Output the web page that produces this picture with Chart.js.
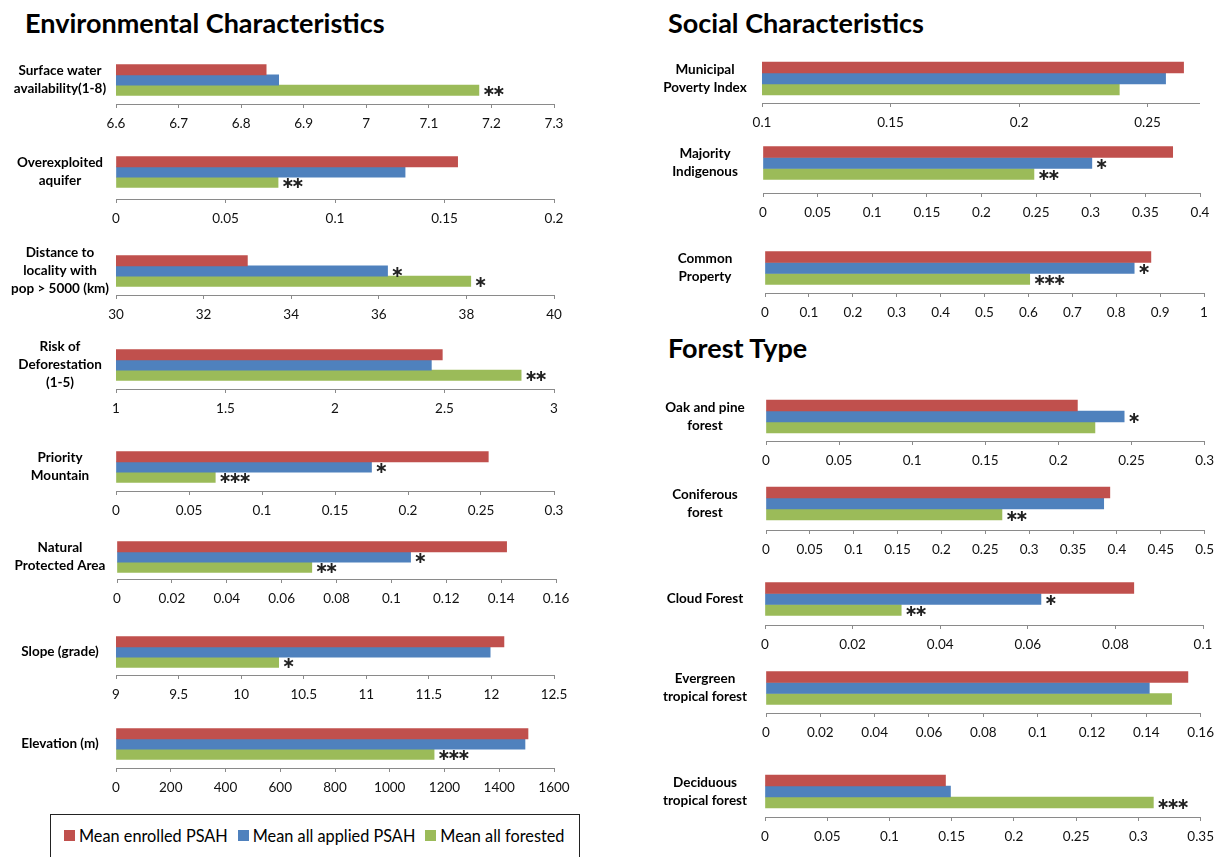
<!DOCTYPE html>
<html>
<head>
<meta charset="utf-8">
<script src="https://cdn.jsdelivr.net/npm/chart.js@4.4.1/dist/chart.umd.min.js"></script>
<style>
  body { margin: 0; width: 1222px; height: 857px; position: relative; overflow: hidden; background: #fff; font-family: Lato, sans-serif; }
  h2 { position: absolute; margin: 0; font: bold 27px/27px Lato, sans-serif; color: #000; }
  canvas { position: absolute; }
  #legend { position: absolute; left: 50px; top: 814px; width: 530px; height: 60px; border: 1px solid #222; box-sizing: border-box;
            display: flex; align-items: center; padding: 0 0 17px 13px; font: 16.3px Lato, sans-serif; color: #000; white-space: nowrap; }
  #legend span.sw { display: inline-block; width: 11px; height: 11px; margin-right: 4px; flex: none; }
  #legend span.item { display: inline-flex; align-items: center; margin-right: 10px; flex: none; }
</style>
</head>
<body>
<h2 style="left:25px; top:9px">Environmental Characteristics</h2>
<h2 style="left:668px; top:9px">Social Characteristics</h2>
<h2 style="left:668px; top:334px">Forest Type</h2>
<div id="legend"></div>

<script>
// one entry per small chart, left column then right column
const categories = [
  ["Surface water", "availability(1-8)"],
  ["Overexploited", "aquifer"],
  ["Distance to", "locality with", "pop > 5000 (km)"],
  ["Risk of", "Deforestation", "(1-5)"],
  ["Priority", "Mountain"],
  ["Natural", "Protected Area"],
  ["Slope (grade)"],
  ["Elevation (m)"],
  ["Municipal", "Poverty Index"],
  ["Majority", "Indigenous"],
  ["Common", "Property"],
  ["Oak and pine", "forest"],
  ["Coniferous", "forest"],
  ["Cloud Forest"],
  ["Evergreen", "tropical forest"],
  ["Deciduous", "tropical forest"]
];

const seriesNames = ["Mean enrolled PSAH", "Mean all applied PSAH", "Mean all forested"];
const seriesColors = ["#C0504D", "#4F81BD", "#9BBB59"];

const enrolled = [6.84, 0.156, 33.0, 2.49, 0.255, 0.142, 12.10, 1505, 0.264, 0.375, 0.879, 0.213, 0.392, 0.0842, 0.1553, 0.145];
const applied  = [6.86, 0.132, 36.2, 2.44, 0.175, 0.107, 11.99, 1494, 0.257, 0.301, 0.841, 0.245, 0.385, 0.0630, 0.1411, 0.149];
const forested = [7.18, 0.074, 38.1, 2.85, 0.068, 0.071, 10.30, 1162, 0.239, 0.248, 0.603, 0.225, 0.269, 0.0311, 0.1493, 0.312];

// significance stars next to each bar
const starsEnrolled = [0, 0, 0, 0, 0, 0, 0, 0, 0, 0, 0, 0, 0, 0, 0, 0];
const starsApplied  = [0, 0, 1, 0, 1, 1, 0, 0, 0, 1, 1, 1, 0, 1, 0, 0];
const starsForested = [2, 2, 1, 2, 3, 2, 1, 3, 0, 2, 3, 0, 2, 2, 0, 3];

// x axis ranges / tick steps
const axisMin  = [6.6, 0, 30, 1, 0, 0, 9, 0, 0.1, 0, 0, 0, 0, 0, 0, 0];
const axisMax  = [7.3, 0.2, 40, 3, 0.3, 0.16, 12.5, 1600, 0.27, 0.4, 1, 0.3, 0.5, 0.1, 0.16, 0.35];
const axisStep = [0.1, 0.05, 2, 0.5, 0.05, 0.02, 0.5, 200, 0.05, 0.05, 0.1, 0.05, 0.05, 0.02, 0.02, 0.05];

// page layout of each panel: plot left/right, bar group centre, axis line y
const boxes = [
  { side: "L", x0: 116, x1: 554, c: 80,    ay: 104 },
  { side: "L", x0: 116, x1: 554, c: 172,   ay: 199 },
  { side: "L", x0: 116, x1: 554, c: 271,   ay: 295 },
  { side: "L", x0: 116, x1: 554, c: 365,   ay: 389 },
  { side: "L", x0: 116, x1: 554, c: 467,   ay: 491 },
  { side: "L", x0: 117, x1: 556, c: 557,   ay: 579 },
  { side: "L", x0: 116, x1: 554, c: 652,   ay: 675 },
  { side: "L", x0: 116, x1: 554, c: 744,   ay: 768 },
  { side: "R", x0: 762, x1: 1199, c: 78.5, ay: 103 },
  { side: "R", x0: 763, x1: 1200, c: 163,  ay: 193 },
  { side: "R", x0: 765, x1: 1204, c: 268,  ay: 293 },
  { side: "R", x0: 766, x1: 1206, c: 416.5, ay: 441 },
  { side: "R", x0: 766, x1: 1205, c: 503.5, ay: 530 },
  { side: "R", x0: 765, x1: 1203, c: 599,  ay: 625 },
  { side: "R", x0: 766, x1: 1203, c: 688,  ay: 713 },
  { side: "R", x0: 765, x1: 1204, c: 791.5, ay: 817 }
];

const starPlugin = {
  id: "stars",
  afterDatasetsDraw(chart, args, opts) {
    const ctx = chart.ctx;
    ctx.save();
    ctx.font = "bold 16px 'DejaVu Sans'";
    ctx.fillStyle = "#222";
    ctx.textBaseline = "middle";
    ctx.textAlign = "left";
    chart.data.datasets.forEach((ds, i) => {
      const bar = chart.getDatasetMeta(i).data[0];
      for (let k = 0; k < opts.marks[i]; k++) {
        ctx.fillText("\u2217", bar.x + 3 + k * 10, bar.y + 2);
      }
    });
    ctx.restore();
  }
};

const labelPlugin = {
  id: "catLabel",
  afterDraw(chart, args, opts) {
    const ctx = chart.ctx;
    const lines = chart.data.labels[0];
    const cy = (chart.chartArea.top + chart.chartArea.bottom) / 2;
    ctx.save();
    ctx.font = "bold 13.5px Lato";
    ctx.fillStyle = "#000";
    ctx.textAlign = "center";
    ctx.textBaseline = "middle";
    lines.forEach((t, k) => {
      ctx.fillText(t, opts.x, cy + (k - (lines.length - 1) / 2) * 18);
    });
    ctx.restore();
  }
};

const fmt = (v) => String(+v.toFixed(4));

boxes.forEach((b, i) => {
  const left = b.side === "L" ? 0 : 620;
  const width = b.side === "L" ? 600 : 602;
  const top = 2 * b.c - b.ay;
  const height = b.ay - top + 30;

  const cv = document.createElement("canvas");
  cv.width = width;
  cv.height = height;
  cv.style.left = left + "px";
  cv.style.top = top + "px";
  document.body.appendChild(cv);

  const values = [enrolled[i], applied[i], forested[i]];

  new Chart(cv.getContext("2d"), {
    type: "bar",
    data: {
      labels: [categories[i]],
      datasets: values.map((v, k) => ({
        label: seriesNames[k],
        data: [v],
        backgroundColor: seriesColors[k],
        borderWidth: 0
      }))
    },
    options: {
      indexAxis: "y",
      responsive: false,
      animation: false,
      layout: { padding: { left: b.x0 - left, right: left + width - b.x1, top: 0, bottom: 0 } },
      datasets: { bar: { barThickness: b.side === "L" ? 10.3 : 11 } },
      scales: {
        y: { display: false },
        x: {
          min: axisMin[i],
          max: axisMax[i],
          afterFit: (a) => { a.height = 30; },
          grid: { drawOnChartArea: false, drawTicks: true, tickLength: 4, color: "#8a8a8a" },
          border: { display: true, color: "#8a8a8a" },
          ticks: {
            stepSize: axisStep[i],
            includeBounds: false,
            autoSkip: false,
            maxRotation: 0,
            padding: 8,
            color: "#111",
            font: { family: "Lato", size: 13.5 },
            callback: fmt
          }
        }
      },
      plugins: {
        legend: { display: false },
        tooltip: { enabled: false },
        stars: { marks: [starsEnrolled[i], starsApplied[i], starsForested[i]] },
        catLabel: { x: b.side === "L" ? 60 : 85 }
      }
    },
    plugins: [starPlugin, labelPlugin]
  });
});

// legend box
const legend = document.getElementById("legend");
seriesNames.forEach((name, k) => {
  const item = document.createElement("span");
  item.className = "item";
  item.innerHTML = '<span class="sw" style="background:' + seriesColors[k] + '"></span>' + name;
  legend.appendChild(item);
});
</script>
</body>
</html>
